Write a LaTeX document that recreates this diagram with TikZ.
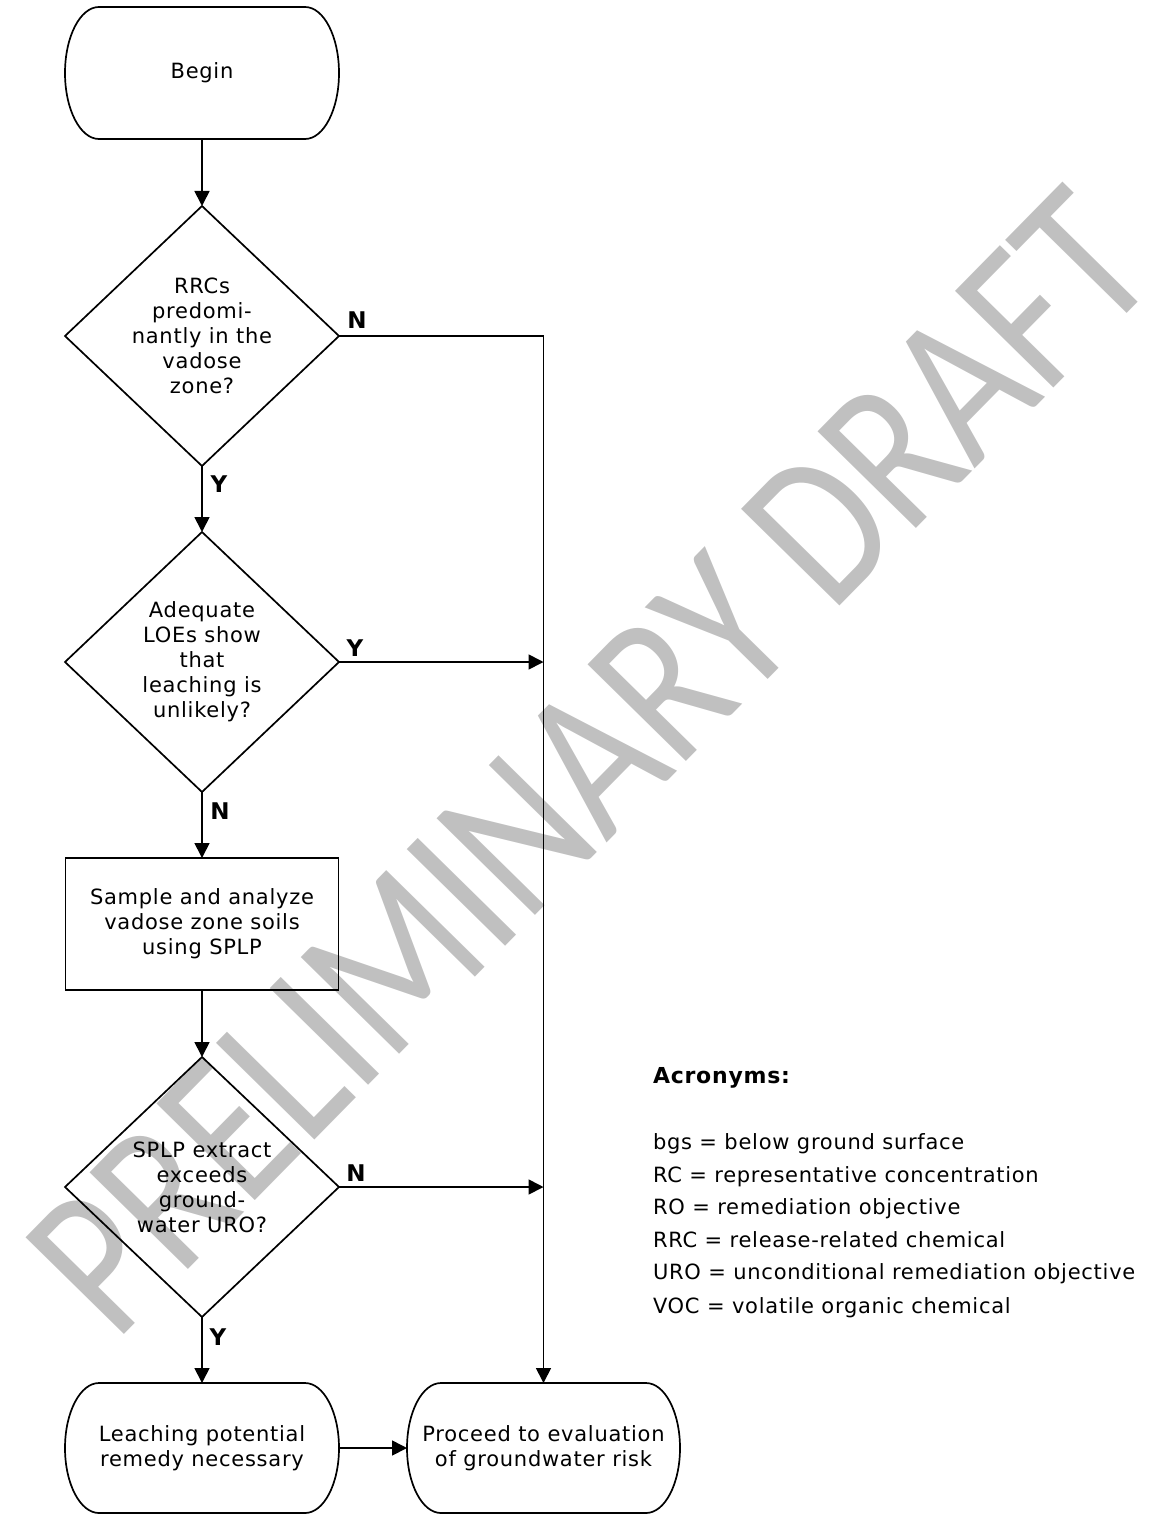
\documentclass[tikz,border=0pt]{standalone}
\usepackage{fontspec}
\setmainfont{DejaVu Sans}[LetterSpace=3.5]
\newfontfamily\markfont{Carlito}
\usetikzlibrary{arrows.meta,shapes.geometric}
\definecolor{markgray}{RGB}{192,192,192}

% start/end shape: a box whose left and right sides are half ellipses
\newcommand\flowterminal[2]{%
  \draw[flowline] ([xshift=34pt]#1.north west) -- ([xshift=-34pt]#1.north east)
    arc[start angle=90,end angle=-90,x radius=34pt,y radius=#2]
    -- ([xshift=34pt]#1.south west)
    arc[start angle=270,end angle=90,x radius=34pt,y radius=#2] -- cycle;}

\begin{document}
\begin{tikzpicture}[x=1pt,y=1pt,
  every node/.style={inner sep=0pt,outer sep=0pt,font=\fontsize{21}{25}\selectfont},
  flowline/.style={line width=1.7pt,line join=miter},
  flowarrow/.style={flowline,-{Triangle[length=15pt,width=15pt]}},
  terminal/.style={minimum width=274pt,align=center},
  decision/.style={diamond,draw,line width=1.7pt,minimum width=274pt,minimum height=260pt,align=center},
  process/.style={rectangle,draw,line width=1.7pt,minimum width=273pt,minimum height=132pt,align=center},
  answer/.style={font=\bfseries\fontsize{23}{25}\selectfont},
  legend/.style={anchor=base west,font=\fontsize{21}{25}\selectfont}]

\useasboundingbox (0,0) rectangle (1151,-1514);

% watermark behind everything
\node[rotate=45.5,text=markgray,font=\markfont\fontsize{215}{215}\selectfont] (wm) at (590,-762)
  {\scalebox{0.82}[1]{PRELIMINARY DRAFT}};

% nodes
\node[terminal,minimum height=132pt] (begin) at (202,-73) {Begin};
\flowterminal{begin}{66pt}
\node[decision] (d1) at (202,-336) {RRCs\\predomi-\\nantly in the\\vadose\\zone?};
\node[decision] (d2) at (202,-662) {Adequate\\LOEs show\\that\\leaching is\\unlikely?};
\node[process] (sample) at (202,-924) {Sample and analyze\\vadose zone soils\\using SPLP};
\node[decision] (d3) at (202,-1187) {SPLP extract\\exceeds\\ground-\\water URO?};
\node[terminal,minimum height=130pt] (remedy) at (202,-1448) {Leaching potential\\remedy necessary};
\flowterminal{remedy}{65pt}
\node[terminal,minimum height=130pt,minimum width=273pt] (proceed) at (543.5,-1448) {Proceed to evaluation\\of groundwater risk};
\flowterminal{proceed}{65pt}

% connectors
\coordinate (bend) at (543.5,-336);
\draw[flowarrow] (begin.south) -- (d1.north);
\draw[flowarrow] (d1.south) -- (d2.north);
\draw[flowarrow] (d2.south) -- (sample.north);
\draw[flowarrow] (sample.south) -- (d3.north);
\draw[flowarrow] (d3.south) -- (remedy.north);
\draw[flowarrow] (remedy.east) -- (proceed.west);
\draw[flowline] (d1.east) -- (bend);
\draw[flowarrow] (bend) -- (proceed.north);
\draw[flowarrow] (d2.east) -- (d2.east -| bend);
\draw[flowarrow] (d3.east) -- (d3.east -| bend);

% branch labels
\node[answer] (n1) at (357,-320) {N};
\node[answer] (y1) at (219,-484) {Y};
\node[answer] (y2) at (355,-648) {Y};
\node[answer] (n2) at (220,-811) {N};
\node[answer] (n3) at (356,-1173) {N};
\node[answer] (y3) at (218,-1337) {Y};

% acronym list
\node[legend,font=\bfseries\fontsize{22}{25}\selectfont] (acr) at (653,-1083) {Acronyms:};
\node[legend] (a1) at (653,-1149) {bgs = below ground surface};
\node[legend] (a2) at (653,-1182) {RC = representative concentration};
\node[legend] (a3) at (653,-1214) {RO = remediation objective};
\node[legend] (a4) at (653,-1247) {RRC = release-related chemical};
\node[legend] (a5) at (653,-1279) {URO = unconditional remediation objective};
\node[legend] (a6) at (653,-1313) {VOC = volatile organic chemical};
\end{tikzpicture}
\end{document}
